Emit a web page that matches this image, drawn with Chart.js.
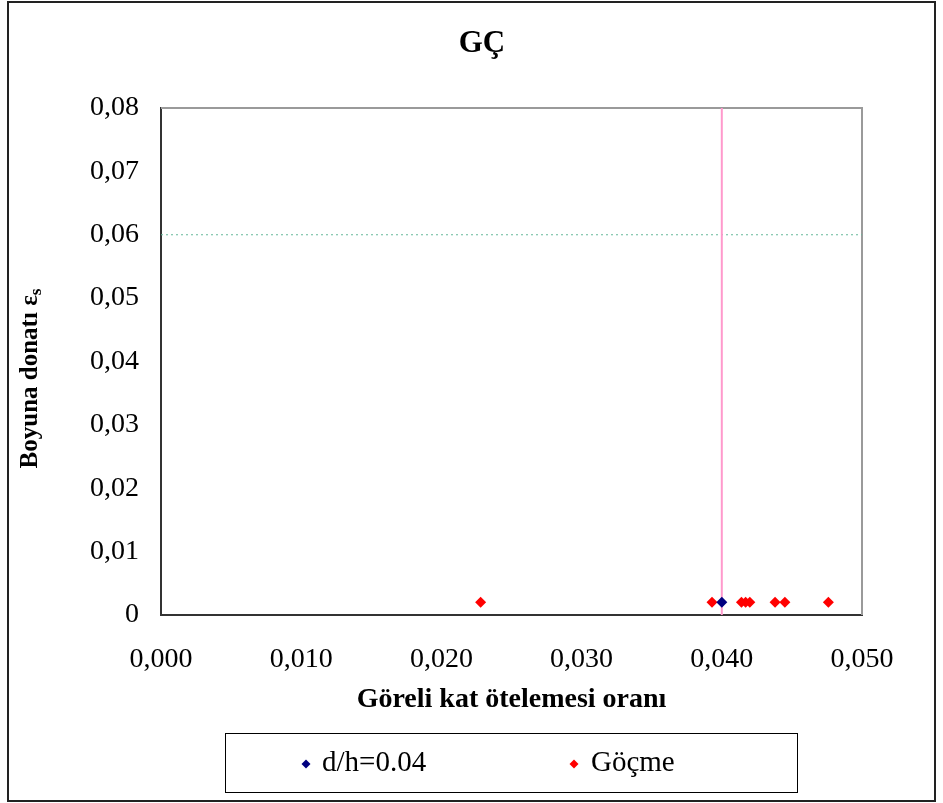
<!DOCTYPE html>
<html>
<head>
<meta charset="utf-8">
<script src="https://cdn.jsdelivr.net/npm/chart.js@4/dist/chart.umd.min.js"></script>
<style>
html,body{margin:0;padding:0;background:#fff;}
#wrap{width:943px;height:803px;position:relative;}
</style>
</head>
<body>
<div id="wrap"><canvas id="c" width="943" height="803"></canvas></div>
<script>
// ---- data ----
const chartTitle = "GÇ";
const xAxisTitle = "Göreli kat ötelemesi oranı";
const yAxisTitleMain = "Boyuna donatı ε";
const yAxisTitleSub = "s";
const seriesNames = ["d/h=0.04", "Göçme"];
const dhX = [0.0400];
const dhY = [0.002];
const gocmeX = [0.0228, 0.0393, 0.0414, 0.0417, 0.0420, 0.0438, 0.0445, 0.0476];
const gocmeY = [0.002, 0.002, 0.002, 0.002, 0.002, 0.002, 0.002, 0.002];
const limitX = [0.040, 0.040];
const limitXY = [0, 0.08];
const limitYX = [0, 0.05];
const limitY = [0.06, 0.06];
const xMin = 0, xMax = 0.05, xStep = 0.01;
const yMin = 0, yMax = 0.08, yStep = 0.01;

const pts = (xs, ys) => xs.map((x, i) => ({x: x, y: ys[i]}));
const SERIF = "'Liberation Serif', 'Times New Roman', serif";

const decorPlugin = {
  id: 'decor',
  beforeDatasetsDraw(chart) {
    const {ctx, chartArea: a} = chart;
    ctx.save();
    ctx.strokeStyle = '#9a9a9a';
    ctx.lineWidth = 2;
    ctx.beginPath();
    ctx.moveTo(a.left, a.top);
    ctx.lineTo(a.right, a.top);
    ctx.lineTo(a.right, a.bottom);
    ctx.stroke();
    ctx.restore();
  },
  afterDraw(chart) {
    const {ctx, chartArea: a} = chart;
    ctx.save();
    // outer frame
    ctx.strokeStyle = '#222';
    ctx.lineWidth = 2;
    ctx.strokeRect(8, 2, 927, 799);
    // chart title
    ctx.fillStyle = '#000';
    ctx.font = "bold 31px " + SERIF;
    ctx.textAlign = 'center';
    ctx.textBaseline = 'middle';
    ctx.fillText(chartTitle, 482, 44);
    ctx.restore();

    // y-axis title with subscript
    ctx.save();
    ctx.translate(31, (a.top + a.bottom) / 2 + 17);
    ctx.rotate(-Math.PI / 2);
    ctx.fillStyle = '#000';
    ctx.textBaseline = 'middle';
    const f1 = "bold 25px " + SERIF;
    const f2 = "bold 17px " + SERIF;
    ctx.font = f1;
    const w1 = ctx.measureText(yAxisTitleMain).width;
    ctx.font = f2;
    const w2 = ctx.measureText(yAxisTitleSub).width;
    const start = -(w1 + w2) / 2;
    ctx.font = f1;
    ctx.textAlign = 'left';
    ctx.fillText(yAxisTitleMain, start, 0);
    ctx.font = f2;
    ctx.fillText(yAxisTitleSub, start + w1, 6);
    ctx.restore();

    // legend
    ctx.save();
    ctx.strokeStyle = '#000';
    ctx.lineWidth = 1;
    ctx.strokeRect(225.5, 733.5, 572, 59);
    const items = [
      {name: seriesNames[0], color: '#000080', cx: 306, tx: 322},
      {name: seriesNames[1], color: '#ff0000', cx: 574, tx: 591}
    ];
    ctx.font = "29px " + SERIF;
    ctx.textBaseline = 'middle';
    ctx.textAlign = 'left';
    items.forEach(it => {
      ctx.fillStyle = it.color;
      ctx.beginPath();
      const cy = 764, r = 4.5;
      ctx.moveTo(it.cx, cy - r);
      ctx.lineTo(it.cx + r, cy);
      ctx.lineTo(it.cx, cy + r);
      ctx.lineTo(it.cx - r, cy);
      ctx.closePath();
      ctx.fill();
      ctx.fillStyle = '#000';
      ctx.fillText(it.name, it.tx, 763);
    });
    ctx.restore();
  }
};

new Chart(document.getElementById('c'), {
  type: 'scatter',
  data: {
    datasets: [
      {
        label: 'limitX',
        data: pts(limitX, limitXY),
        showLine: true,
        borderColor: '#ff99cc',
        borderWidth: 2,
        pointRadius: 0,
        order: 5
      },
      {
        label: 'limitY',
        data: pts(limitYX, limitY),
        showLine: true,
        borderColor: '#66b89a',
        borderWidth: 1,
        borderDash: [2, 3],
        pointRadius: 0,
        order: 6
      },
      {
        label: seriesNames[1],
        data: pts(gocmeX, gocmeY),
        pointStyle: 'rectRot',
        pointRadius: 5.5,
        backgroundColor: '#ff0000',
        borderColor: '#ff0000',
        borderWidth: 0,
        order: 2
      },
      {
        label: seriesNames[0],
        data: pts(dhX, dhY),
        pointStyle: 'rectRot',
        pointRadius: 5.5,
        backgroundColor: '#000080',
        borderColor: '#000080',
        borderWidth: 0,
        order: 1
      }
    ]
  },
  options: {
    responsive: false,
    animation: false,
    events: [],
    layout: {padding: {left: 0, right: 81, top: 108, bottom: 78}},
    plugins: {
      legend: {display: false},
      tooltip: {enabled: false},
      title: {display: false}
    },
    scales: {
      x: {
        type: 'linear',
        min: xMin, max: xMax,
        afterFit(s) { s.height = 110; },
        grid: {display: false, drawOnChartArea: false, drawTicks: true, tickLength: 7, tickColor: '#333', tickWidth: 1.5},
        border: {display: true, color: '#333', width: 2},
        ticks: {
          stepSize: xStep,
          color: '#000',
          padding: 21,
          font: {family: SERIF, size: 28},
          callback: v => Number(v).toFixed(3).replace('.', ',')
        },
        title: {
          display: true,
          text: xAxisTitle,
          color: '#000',
          font: {family: SERIF, size: 28, weight: 'bold'},
          padding: {top: 0, bottom: 8}
        }
      },
      y: {
        type: 'linear',
        min: yMin, max: yMax,
        afterFit(s) { s.width = 161; },
        grid: {display: false, drawOnChartArea: false, drawTicks: true, tickLength: 8, tickColor: '#333', tickWidth: 1.5},
        border: {display: true, color: '#333', width: 2},
        ticks: {
          stepSize: yStep,
          color: '#000',
          padding: 14,
          font: {family: SERIF, size: 28},
          callback: v => (Math.abs(v) < 1e-12 ? '0' : Number(v).toFixed(2).replace('.', ','))
        },
        title: {display: false}
      }
    }
  },
  plugins: [decorPlugin]
});
</script>
</body>
</html>
